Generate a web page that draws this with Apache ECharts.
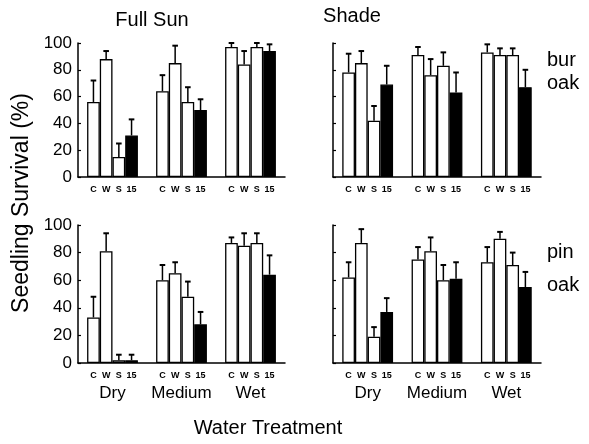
<!DOCTYPE html>
<html>
<head>
<meta charset="utf-8">
<script src="https://cdn.jsdelivr.net/npm/echarts@6/dist/echarts.min.js"></script>
<style>html,body{margin:0;padding:0;background:#fff}#c{width:589px;height:444px}</style>
</head>
<body>
<div id="c"></div>
<script>
const groups = ['Dry', 'Medium', 'Wet'];
const treatments = ['C', 'W', 'S', '15'];
const yTickValues = [0, 20, 40, 60, 80, 100];

// Means: one row per treatment (C, W, S, 15), values for Dry, Medium, Wet
const burSunMeans   = [[56, 64, 97], [88, 85, 84], [15, 56, 97], [31, 50, 94]];
const burSunTops    = [[72, 76, 100], [94, 98, 94], [25, 67, 100], [43, 58, 99]];
const burShadeMeans = [[78, 91, 93], [85, 76, 91], [42, 83, 91], [69, 63, 67]];
const burShadeTops  = [[92, 97, 99], [94, 88, 96], [53, 93, 96], [83, 78, 80]];
const pinSunMeans   = [[33, 60, 87], [81, 65, 85], [2, 48, 87], [2, 28, 64]];
const pinSunTops    = [[48, 71, 91], [94, 73, 94], [6, 59, 94], [6, 37, 78]];
const pinShadeMeans = [[62, 75, 73], [87, 81, 90], [19, 60, 71], [37, 61, 55]];
const pinShadeTops  = [[73, 84, 84], [97, 91, 95], [26, 71, 80], [47, 73, 66]];

const FONT = 'Liberation Sans, Arial, Helvetica, sans-serif';
const BW = 12.7;

const panels = [
  { means: burSunMeans, tops: burSunTops, left: 78, top: 43, width: 207, height: 134, yLabels: true, xLabels: false },
  { means: burShadeMeans, tops: burShadeTops, left: 333, top: 43, width: 208, height: 134, yLabels: false, xLabels: false },
  { means: pinSunMeans, tops: pinSunTops, left: 78, top: 225, width: 207, height: 138, yLabels: true, xLabels: true },
  { means: pinShadeMeans, tops: pinShadeTops, left: 333, top: 225, width: 208, height: 138, yLabels: false, xLabels: true }
];

const grid = [], xAxis = [], yAxis = [], series = [];
panels.forEach((p, pi) => {
  grid.push({ left: p.left, top: p.top, width: p.width, height: p.height });
  xAxis.push({
    type: 'category', gridIndex: pi, data: groups, boundaryGap: true,
    axisLine: { show: true, lineStyle: { color: '#000', width: 1.5 } },
    axisTick: { show: false },
    axisLabel: { show: p.xLabels, interval: 0, hideOverlap: false, fontSize: 17, color: '#000', margin: 22, fontFamily: FONT }
  });
  yAxis.push({
    type: 'value', gridIndex: pi, min: 0, max: 100, interval: 20,
    axisLine: { show: true, lineStyle: { color: '#000', width: 1.5 } },
    axisTick: { show: true, inside: true, length: 3, lineStyle: { color: '#000', width: 1.2 } },
    splitLine: { show: false },
    axisLabel: { show: p.yLabels, fontSize: 17, color: '#000', margin: 6, fontFamily: FONT,
      formatter: v => yTickValues.includes(v) ? String(v) : '' }
  });
  treatments.forEach((t, ti) => {
    series.push({
      type: 'bar', name: t, xAxisIndex: pi, yAxisIndex: pi,
      data: p.means[ti], barWidth: BW, barGap: '0%',
      itemStyle: { color: ti === 3 ? '#000' : '#fff', borderColor: '#000', borderWidth: 1.3 },
      label: { show: true, position: 'bottom', distance: 8, formatter: t, fontSize: 9,
        fontWeight: 'bold', color: '#000', fontFamily: FONT },
      silent: true
    });
  });
  const errData = [];
  treatments.forEach((t, ti) => {
    groups.forEach((g, gi) => errData.push([ti, gi, p.means[ti][gi], p.tops[ti][gi]]));
  });
  series.push({
    type: 'custom', xAxisIndex: pi, yAxisIndex: pi, clip: false, silent: true,
    encode: { x: 1, y: 3 },
    data: errData,
    z: 5,
    renderItem: (params, api) => {
      const ti = api.value(0), gi = api.value(1);
      const base = api.coord([gi, api.value(2)]);
      const top = api.coord([gi, api.value(3)]);
      const x = base[0] + (ti - 1.5) * BW;
      return {
        type: 'group',
        children: [
          { type: 'line', shape: { x1: x, y1: base[1], x2: x, y2: top[1] }, style: { stroke: '#000', lineWidth: 1.5 } },
          { type: 'line', shape: { x1: x - 2.8, y1: top[1], x2: x + 2.8, y2: top[1] }, style: { stroke: '#000', lineWidth: 2 } }
        ]
      };
    }
  });
});

const txt = (text, x, y, size, align, extra) => Object.assign({
  type: 'text', x: x, y: y,
  style: { text: text, font: size + 'px ' + FONT, fill: '#000', textAlign: align || 'center', textVerticalAlign: 'middle' }
}, extra || {});

const chart = echarts.init(document.getElementById('c'));
chart.setOption({
  animation: false,
  backgroundColor: '#fff',
  grid: grid, xAxis: xAxis, yAxis: yAxis, series: series,
  graphic: [
    txt('Full Sun', 152, 20, 20),
    txt('Shade', 352, 16, 20),
    txt('bur', 547, 60, 20, 'left'),
    txt('oak', 547, 83, 20, 'left'),
    txt('pin', 547, 252, 20, 'left'),
    txt('oak', 547, 285, 20, 'left'),
    txt('Water Treatment', 268, 428, 20),
    txt('Seedling Survival (%)', 22, 203, 23, 'center', { rotation: Math.PI / 2 })
  ]
});
</script>
</body>
</html>
